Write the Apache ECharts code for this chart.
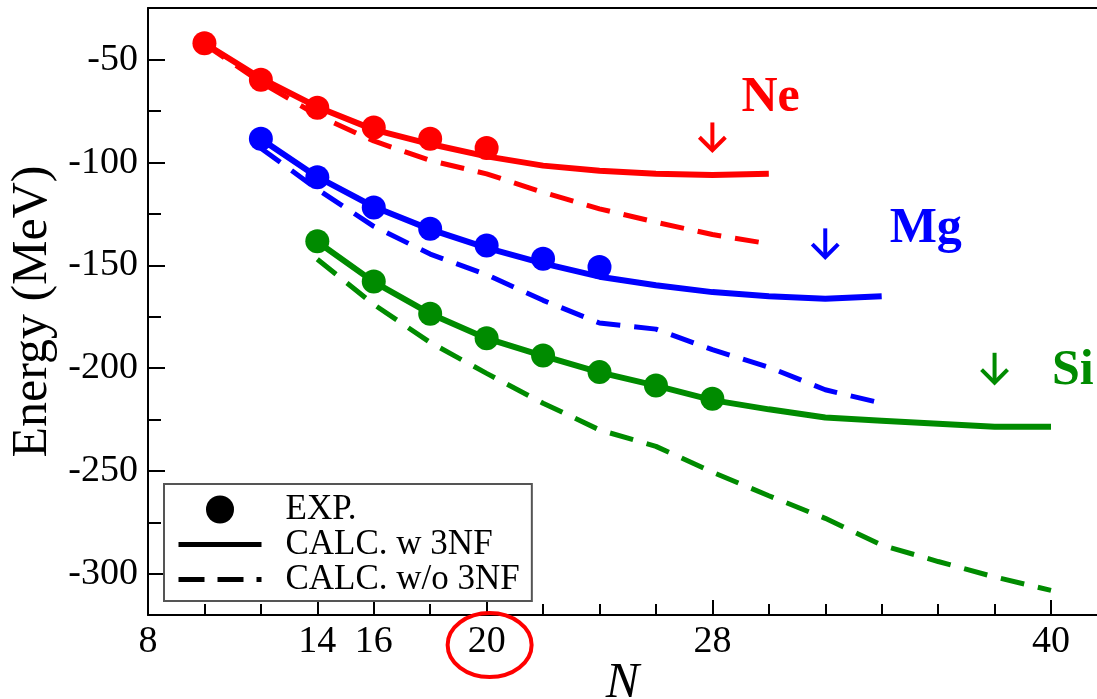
<!DOCTYPE html>
<html>
<head>
<meta charset="utf-8">
<script src="https://cdn.jsdelivr.net/npm/echarts@6/dist/echarts.min.js"></script>
<style>
html,body{margin:0;padding:0;background:#fff}
#main{width:1097px;height:699px}
</style>
</head>
<body>
<div id="main"></div>
<script>
// values (N = neutron number, energy in MeV)
var neExpN = [10, 12, 14, 16, 18, 20];
var neExp = [-42, -59.7, -73.3, -83.0, -88.4, -92.9];
var neCalcN = [10, 12, 14, 16, 18, 20, 22, 24, 26, 28, 30];
var neW3nf = [-42, -59, -73, -84, -91, -97, -101.5, -104, -105.5, -106, -105.5];
var neWo3nf = [-42.5, -61, -77, -89.5, -99, -105.5, -114.5, -122.5, -129, -135, -139.5];

var mgExpN = [12, 14, 16, 18, 20, 22, 24];
var mgExp = [-88.4, -107.1, -121.9, -132.2, -140.3, -146.8, -150.8];
var mgCalcN = [12, 14, 16, 18, 20, 22, 24, 26, 28, 30, 32, 34];
var mgW3nf = [-88.5, -107, -121.5, -132.5, -141.5, -149, -155.5, -159.7, -163, -165, -166.2, -165];
var mgWo3nf = [-93, -113, -131, -144.5, -154.5, -167, -178, -181, -191, -199.5, -210.5, -217];

var siExpN = [14, 16, 18, 20, 22, 24, 26, 28];
var siExp = [-138.3, -157.8, -173.5, -185.4, -193.8, -201.9, -208.4, -214.8];
var siCalcN = [14, 16, 18, 20, 22, 24, 26, 28, 30, 32, 34, 36, 38, 40];
var siW3nf = [-138.5, -158, -173.5, -185.5, -194, -202, -208.5, -215.5, -220, -224, -225.5, -227, -228.5, -228.5];
var siWo3nf = [-147, -169, -187.5, -202.5, -217, -230, -238, -250.5, -262, -273, -286, -294, -301.5, -308];

// drip-line arrows and element names
var elements = ['Ne', 'Mg', 'Si'];
var arrowN = [28, 32, 38];
var arrowTop = [-80.5, -132, -192.5];
var arrowTip = [-94, -146, -207];
var nameN = [29.05, 34.3, 40.05];
var nameE = [-69, -132.5, -201.5];

var xMajor = [8, 14, 16, 20, 28, 40];
var xMinor = [10, 12, 18, 22, 24, 26, 30, 32, 34, 36, 38];
var yMajor = [-50, -100, -150, -200, -250, -300];
var yMinor = [-75, -125, -175, -225, -275];

var colors = ['#ff0000', '#0000ff', '#008b00'];
var serif = 'Liberation Serif';

function zip(a, b) {
  return a.map(function (v, i) { return [v, b[i]]; });
}

var chart = echarts.init(document.getElementById('main'));

var series = [];
var groups = [
  [neExpN, neExp, neCalcN, neW3nf, neWo3nf],
  [mgExpN, mgExp, mgCalcN, mgW3nf, mgWo3nf],
  [siExpN, siExp, siCalcN, siW3nf, siWo3nf]
];
groups.forEach(function (g, i) {
  series.push({
    name: 'CALC. w/o 3NF', type: 'line', symbol: 'none', z: 2,
    data: zip(g[2], g[4]),
    lineStyle: { color: colors[i], width: 5, type: [24, 14] },
    itemStyle: { color: colors[i] }
  });
  series.push({
    name: 'CALC. w 3NF', type: 'line', symbol: 'none', z: 3,
    data: zip(g[2], g[3]),
    lineStyle: { color: colors[i], width: 6 },
    itemStyle: { color: colors[i] }
  });
  series.push({
    name: 'EXP.', type: 'scatter', symbol: 'circle', symbolSize: 24, z: 4,
    data: zip(g[0], g[1]),
    itemStyle: { color: colors[i], opacity: 1 }
  });
});

series.push({
  name: 'arrows', type: 'custom', silent: true, z: 5,
  data: arrowN.map(function (n, i) { return [n, arrowTop[i], arrowTip[i], i]; }),
  renderItem: function (params, api) {
    var top = api.coord([api.value(0), api.value(1)]);
    var tip = api.coord([api.value(0), api.value(2)]);
    var c = colors[api.value(3)];
    var h = 13;
    return {
      type: 'group',
      children: [
        { type: 'line', shape: { x1: top[0], y1: top[1], x2: tip[0], y2: tip[1] - 2 },
          style: { stroke: c, lineWidth: 4 } },
        { type: 'polyline', shape: { points: [[tip[0] - h, tip[1] - h], [tip[0], tip[1]], [tip[0] + h, tip[1] - h]] },
          style: { stroke: c, lineWidth: 4, fill: null } }
      ]
    };
  }
});

series.push({
  name: 'names', type: 'scatter', silent: true, symbolSize: 1, z: 5,
  itemStyle: { color: 'rgba(0,0,0,0)' },
  data: elements.map(function (el, i) {
    return {
      name: el, value: [nameN[i], nameE[i]],
      label: { color: colors[i] }
    };
  }),
  label: {
    show: true, position: [0, 0], align: 'left', verticalAlign: 'middle',
    formatter: '{b}', fontFamily: serif, fontWeight: 'bold', fontSize: 50,
    textBorderWidth: 0, opacity: 1
  }
});

var tickLine = { color: '#000', width: 2 };
var noSymbol = { color: 'rgba(0,0,0,0)', borderWidth: 0 };

chart.setOption({
  animation: false,
  backgroundColor: '#fff',
  grid: { left: 148, top: 8, right: 0, bottom: 84, outerBoundsMode: 'none', containLabel: false },
  legend: {
    orient: 'vertical', left: 164, top: 484,
    itemWidth: 83, itemHeight: 28, itemGap: 0,
    padding: [8, 12, 4, 12],
    borderColor: '#555', borderWidth: 2,
    selectedMode: false,
    textStyle: { fontFamily: serif, fontSize: 35, color: '#000', lineHeight: 34, padding: [0, 0, 0, 19] },
    data: [
      { name: 'EXP.', icon: 'circle', itemStyle: { color: '#000' } },
      { name: 'CALC. w 3NF', itemStyle: noSymbol, lineStyle: { color: '#000', width: 5, type: 'solid' } },
      { name: 'CALC. w/o 3NF', itemStyle: noSymbol, lineStyle: { color: '#000', width: 5, type: [26, 13] } }
    ]
  },
  xAxis: [
    {
      type: 'value', min: 8, max: 41.63, position: 'bottom',
      axisLine: { lineStyle: tickLine },
      axisTick: { inside: true, length: 11, customValues: xMinor, lineStyle: tickLine },
      axisLabel: { show: false },
      splitLine: { show: false },
      name: 'N', nameLocation: 'middle', nameGap: 44,
      nameTextStyle: { fontFamily: serif, fontStyle: 'italic', fontSize: 50, color: '#000' }
    },
    {
      type: 'value', min: 8, max: 41.63, position: 'bottom',
      axisLine: { show: false },
      axisTick: { inside: true, length: 15, customValues: xMajor, lineStyle: tickLine },
      axisLabel: { customValues: xMajor, fontFamily: serif, fontSize: 38, color: '#000', margin: 8 },
      splitLine: { show: false }
    },
    {
      type: 'value', min: 8, max: 41.63, position: 'top',
      axisLine: { lineStyle: tickLine },
      axisTick: { show: false }, axisLabel: { show: false }, splitLine: { show: false }
    }
  ],
  yAxis: [
    {
      type: 'value', min: -320, max: -24.85, position: 'left',
      axisLine: { lineStyle: tickLine },
      axisTick: { inside: true, length: 17, customValues: yMajor, lineStyle: tickLine },
      axisLabel: { customValues: yMajor, fontFamily: serif, fontSize: 38, color: '#000', margin: 10 },
      splitLine: { show: false },
      name: 'Energy (MeV)', nameLocation: 'middle', nameGap: 90,
      nameTextStyle: { fontFamily: serif, fontSize: 50, color: '#000' }
    },
    {
      type: 'value', min: -320, max: -24.85, position: 'left',
      axisLine: { show: false },
      axisTick: { inside: true, length: 13, customValues: yMinor, lineStyle: tickLine },
      axisLabel: { show: false }, splitLine: { show: false }
    }
  ],
  series: series
});

// red ring drawn round the N = 20 label
var p = chart.convertToPixel({ xAxisIndex: 0, yAxisIndex: 0 }, [20, -320]);
chart.setOption({
  graphic: [{
    type: 'ellipse', z: 10,
    shape: { cx: p[0] + 3, cy: p[1] + 30, rx: 42, ry: 32 },
    style: { fill: null, stroke: '#ff0000', lineWidth: 4 }
  }]
});
</script>
</body>
</html>
